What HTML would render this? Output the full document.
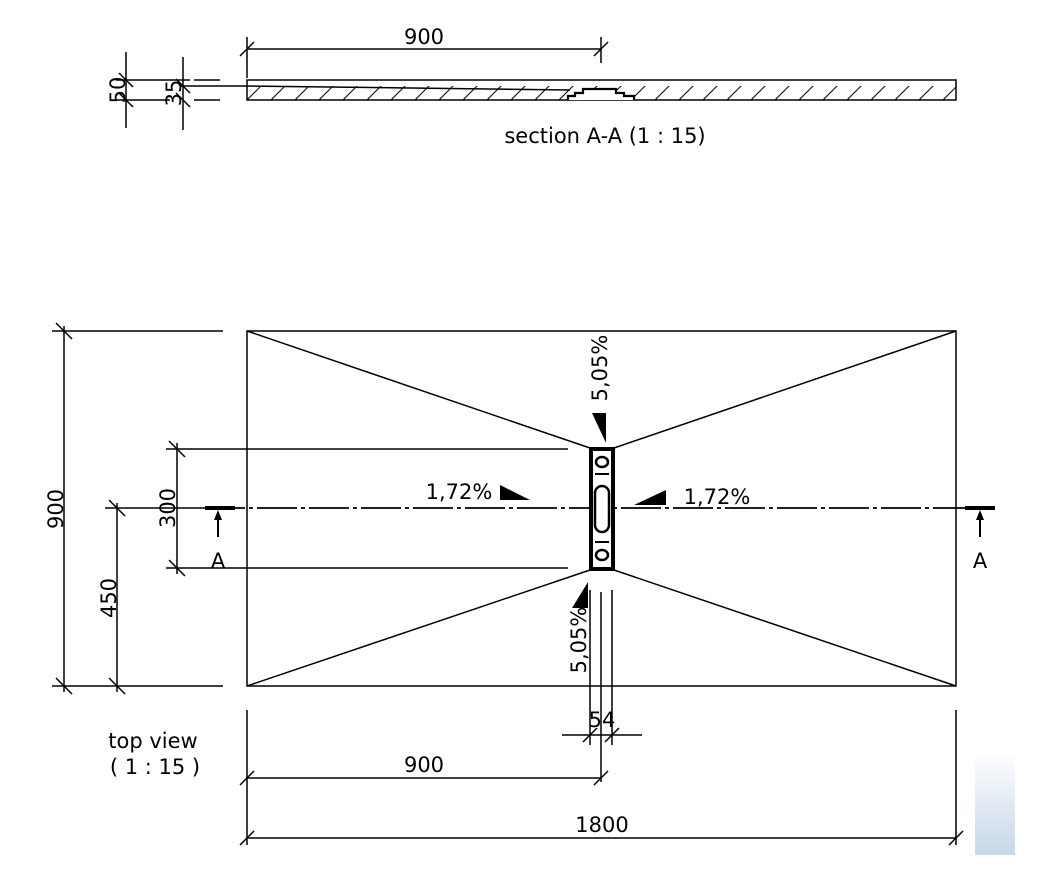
<!DOCTYPE html>
<html><head><meta charset="utf-8"><style>
html,body{margin:0;padding:0;background:#fff;}
svg{display:block;}
text{font-family:"DejaVu Sans","Liberation Sans",sans-serif;fill:#000;}
</style></head><body>
<svg width="1063" height="878" viewBox="0 0 1063 878" xmlns="http://www.w3.org/2000/svg">
<defs>
<pattern id="h" width="24" height="20" patternUnits="userSpaceOnUse" x="247" y="80">
<line x1="0" y1="20" x2="20" y2="0" stroke="#000" stroke-width="1"/>
</pattern>
<linearGradient id="g" x1="0" y1="0" x2="0" y2="1"><stop offset="0" stop-color="#fff"/><stop offset="1" stop-color="#c6d7e8"/></linearGradient>
</defs>
<rect x="975" y="750" width="40" height="105" fill="url(#g)"/>
<g stroke="#000" stroke-width="1.5" fill="none">
<!-- section -->
<rect x="247" y="86" width="709" height="14" fill="url(#h)" stroke="none"/>
<rect x="247" y="80" width="709" height="20"/>
<line x1="247" y1="86" x2="570" y2="90"/>
<line x1="126" y1="52" x2="126" y2="128"/>
<line x1="116" y1="80" x2="190" y2="80"/>
<line x1="116" y1="100" x2="170" y2="100"/>
<line x1="183" y1="57" x2="183" y2="130"/>
<line x1="180" y1="86" x2="247" y2="86"/>
<line x1="194" y1="80" x2="220" y2="80"/>
<line x1="194" y1="100" x2="220" y2="100"/>
<line x1="119" y1="73" x2="133" y2="87"/><line x1="119" y1="93" x2="133" y2="107"/>
<line x1="176" y1="79" x2="190" y2="93"/><line x1="176" y1="93" x2="190" y2="107"/>
<line x1="247" y1="37" x2="247" y2="78"/>
<line x1="601" y1="37" x2="601" y2="63"/>
<line x1="247" y1="49" x2="601" y2="49"/>
<line x1="240" y1="56" x2="254" y2="42"/><line x1="594" y1="56" x2="608" y2="42"/>
<path d="M568 100 V96 H575 V93 H583 V89 H616 V93 H624 V96 H634 V100" stroke-width="2.2" fill="#fff"/>
<!-- top view -->
<rect x="247" y="331" width="709" height="355"/>
<line x1="247" y1="331" x2="590" y2="448"/>
<line x1="956" y1="331" x2="614" y2="448"/>
<line x1="247" y1="686" x2="590" y2="570"/>
<line x1="956" y1="686" x2="614" y2="570"/>
<line x1="205" y1="508" x2="995" y2="508" stroke-width="1.8" stroke-dasharray="40 4 4 4"/>
<!-- left dims -->
<line x1="52" y1="331" x2="223" y2="331"/>
<line x1="52" y1="686" x2="223" y2="686"/>
<line x1="64" y1="326" x2="64" y2="692"/>
<line x1="56" y1="323" x2="72" y2="339"/><line x1="56" y1="678" x2="72" y2="694"/>
<line x1="105" y1="508" x2="205" y2="508"/>
<line x1="117" y1="503" x2="117" y2="692"/>
<line x1="109" y1="500" x2="125" y2="516"/><line x1="109" y1="678" x2="125" y2="694"/>
<line x1="166" y1="449" x2="568" y2="449"/>
<line x1="166" y1="568" x2="568" y2="568"/>
<line x1="177" y1="443" x2="177" y2="574"/>
<line x1="169" y1="441" x2="185" y2="457"/><line x1="169" y1="560" x2="185" y2="576"/>
<!-- section markers -->
<line x1="205" y1="508" x2="235" y2="508" stroke-width="4"/>
<line x1="218" y1="537" x2="218" y2="516" stroke-width="2"/>
<line x1="965" y1="508" x2="995" y2="508" stroke-width="4"/>
<line x1="980" y1="537" x2="980" y2="516" stroke-width="2"/>
<!-- drain -->
<rect x="591" y="449" width="22" height="120" stroke-width="4" fill="#fff"/>
<line x1="595" y1="474" x2="609" y2="474" stroke-width="2"/>
<line x1="595" y1="542" x2="609" y2="542" stroke-width="2"/>
<ellipse cx="602" cy="462" rx="6" ry="5" stroke-width="2.5"/>
<ellipse cx="602" cy="555" rx="6" ry="5" stroke-width="2.5"/>
<rect x="595" y="486" width="14" height="46" rx="7" stroke-width="2.5"/>
<!-- bottom dims -->
<line x1="590" y1="590" x2="590" y2="745"/>
<line x1="601" y1="592" x2="601" y2="782"/>
<line x1="612" y1="590" x2="612" y2="745"/>
<line x1="562" y1="735" x2="642" y2="735"/>
<line x1="583" y1="742" x2="597" y2="728"/><line x1="605" y1="742" x2="619" y2="728"/>
<line x1="247" y1="710" x2="247" y2="845"/>
<line x1="956" y1="710" x2="956" y2="845"/>
<line x1="247" y1="778" x2="601" y2="778"/>
<line x1="240" y1="785" x2="254" y2="771"/><line x1="594" y1="785" x2="608" y2="771"/>
<line x1="247" y1="838" x2="956" y2="838"/>
<line x1="240" y1="845" x2="254" y2="831"/><line x1="949" y1="845" x2="963" y2="831"/>
</g>
<g fill="#000">
<polygon points="592,413 606,413 606,443"/>
<polygon points="572,608 588,608 588,582"/>
<polygon points="500,485 500,500 530,500"/>
<polygon points="634,505 666,490 666,505"/>
<polygon points="218,510 214,520 222,520"/>
<polygon points="980,510 976,520 984,520"/>
</g>
<g font-size="21">
<text x="424" y="44" text-anchor="middle">900</text>
<text x="605" y="143" text-anchor="middle">section A-A (1 : 15)</text>
<text transform="translate(125,90) rotate(-90)" text-anchor="middle">50</text>
<text transform="translate(181,93) rotate(-90)" text-anchor="middle">35</text>
<text transform="translate(63,509) rotate(-90)" text-anchor="middle">900</text>
<text transform="translate(116,598) rotate(-90)" text-anchor="middle">450</text>
<text transform="translate(175,508) rotate(-90)" text-anchor="middle">300</text>
<text transform="translate(607,368) rotate(-90)" text-anchor="middle">5,05%</text>
<text transform="translate(586,640) rotate(-90)" text-anchor="middle">5,05%</text>
<text x="459" y="499" text-anchor="middle">1,72%</text>
<text x="717" y="504" text-anchor="middle">1,72%</text>
<text x="218" y="568" text-anchor="middle">A</text>
<text x="980" y="568" text-anchor="middle">A</text>
<text x="602" y="727" text-anchor="middle">54</text>
<text x="424" y="772" text-anchor="middle">900</text>
<text x="602" y="832" text-anchor="middle">1800</text>
<text x="153" y="748" text-anchor="middle">top view</text>
<text x="155" y="774" text-anchor="middle">( 1 : 15 )</text>
</g>
</svg>
</body></html>
